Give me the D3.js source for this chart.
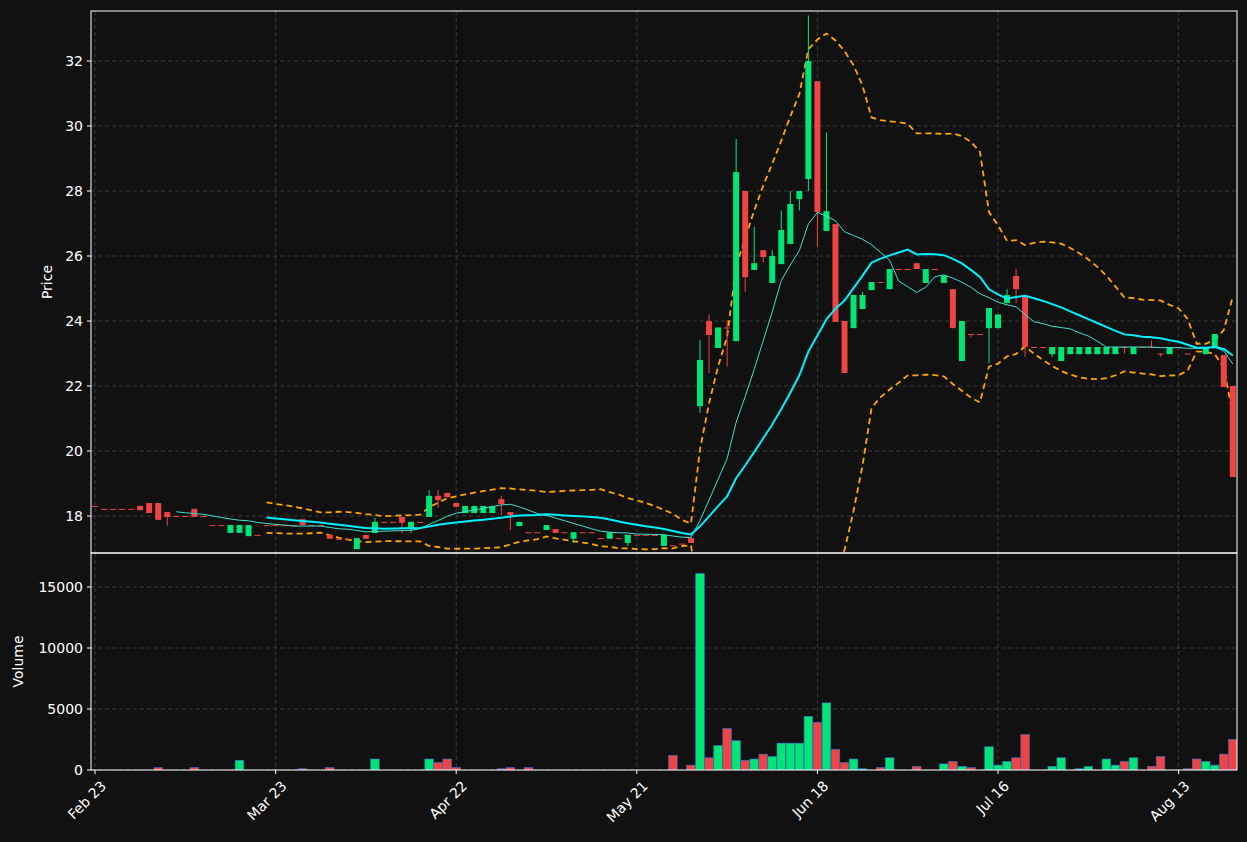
<!DOCTYPE html>
<html><head><meta charset="utf-8">
<script src="https://cdn.jsdelivr.net/npm/d3@7"></script>
<style>body{margin:0;background:#111111;}svg{display:block;font-family:"DejaVu Sans",sans-serif;}</style>
</head><body><svg id="c" width="1247" height="842"></svg>
<script>
const opens=[18.31,18.22,18.22,18.22,18.22,18.31,18.4,18.4,18.12,18.0,18.0,18.22,18.0,17.72,17.72,17.48,17.48,17.38,17.42,17.72,17.72,17.72,17.72,17.9,17.72,17.72,17.42,17.3,17.3,16.98,17.42,17.48,17.82,17.82,17.97,17.6,17.82,17.97,18.62,18.71,18.4,18.09,18.09,18.09,18.09,18.52,18.12,17.69,17.5,17.5,17.57,17.6,17.5,17.3,17.5,17.5,17.32,17.3,17.32,17.17,17.42,17.42,17.42,17.08,17.1,17.15,17.32,21.38,24.0,23.17,23.8,23.38,28.0,25.57,26.18,25.17,25.75,26.37,27.75,28.37,31.38,26.77,26.98,24.0,23.78,24.37,24.95,25.2,24.98,25.6,25.6,25.78,25.17,25.6,25.17,24.98,22.77,23.6,23.6,23.78,23.78,24.55,25.38,24.77,23.2,23.2,22.98,22.77,22.98,22.98,22.98,22.98,22.98,22.98,23.2,22.98,23.2,23.2,23.0,22.98,23.2,23.0,23.2,22.98,23.2,22.95,22.0];
const highs=[18.31,18.22,18.22,18.22,18.22,18.31,18.4,18.4,18.12,18.0,18.0,18.22,18.0,17.72,17.72,17.72,17.72,17.72,17.42,17.72,17.72,17.72,17.72,17.9,17.72,17.72,17.42,17.3,17.3,17.32,17.42,17.95,17.82,17.82,17.97,17.82,17.82,18.8,18.8,18.71,18.4,18.31,18.31,18.31,18.31,18.62,18.12,17.82,17.5,17.5,17.72,17.6,17.5,17.5,17.5,17.5,17.32,17.5,17.32,17.42,17.42,17.42,17.42,17.42,17.1,17.15,17.32,23.42,24.2,23.8,24.03,29.6,28.0,26.9,26.18,26.18,27.4,28.0,28.0,33.4,31.38,29.8,26.98,24.0,24.8,24.9,25.2,25.2,25.6,25.6,25.6,25.78,25.6,25.6,25.4,24.98,24.0,23.6,23.6,24.4,24.2,24.98,25.6,24.77,23.2,23.2,23.2,23.2,23.2,23.2,23.2,23.2,23.2,23.2,23.2,23.2,23.2,23.4,23.0,23.2,23.2,23.0,23.2,23.2,23.6,22.95,22.0];
const lows=[18.31,18.22,18.22,18.22,18.22,18.18,18.09,17.88,17.7,18.0,18.0,17.97,18.0,17.72,17.72,17.48,17.48,17.38,17.42,17.72,17.72,17.72,17.72,17.72,17.72,17.72,17.3,17.3,17.3,16.98,17.3,17.48,17.82,17.82,17.48,17.48,17.82,17.97,18.25,18.58,18.28,18.09,18.09,18.09,18.09,18.03,17.57,17.69,17.5,17.5,17.57,17.48,17.5,17.17,17.5,17.5,17.32,17.3,17.32,17.08,17.42,17.42,17.42,17.08,17.1,17.15,17.17,21.17,22.4,23.17,22.6,23.38,24.9,25.57,25.8,25.17,25.75,26.37,27.4,28.0,26.28,26.77,23.97,22.4,23.78,24.37,24.95,25.2,24.98,25.6,25.6,25.6,25.17,25.6,25.17,23.78,22.77,23.5,23.6,22.7,23.78,24.55,24.55,22.9,23.2,23.2,22.9,22.77,22.98,22.98,22.98,22.98,22.98,22.98,23.0,22.98,23.2,23.2,22.9,22.98,23.2,23.0,23.2,22.98,23.2,21.97,19.2];
const closes=[18.31,18.22,18.22,18.22,18.22,18.18,18.09,17.88,17.97,18.0,18.0,17.97,18.0,17.72,17.72,17.72,17.72,17.72,17.42,17.72,17.72,17.72,17.72,17.72,17.72,17.72,17.3,17.3,17.3,17.32,17.3,17.82,17.82,17.82,17.79,17.82,17.82,18.62,18.49,18.58,18.28,18.31,18.31,18.31,18.31,18.37,18.03,17.82,17.5,17.5,17.72,17.48,17.5,17.5,17.5,17.5,17.32,17.5,17.32,17.42,17.42,17.42,17.42,17.42,17.1,17.15,17.17,22.8,23.57,23.8,23.8,28.58,25.35,25.78,25.97,26.0,26.8,27.6,28.0,32.0,27.35,27.38,23.97,22.4,24.8,24.8,25.2,25.2,25.6,25.6,25.6,25.6,25.6,25.6,25.4,23.78,24.0,23.6,23.6,24.4,24.2,24.8,24.98,23.2,23.2,23.2,23.2,23.2,23.2,23.2,23.2,23.2,23.2,23.2,23.2,23.2,23.2,23.2,23.0,23.2,23.2,23.0,23.2,23.2,23.6,21.97,19.2];
const volumes=[0,0,0,0,0,0,0,200,0,0,0,200,0,0,0,0,800,0,0,0,0,0,0,100,0,0,200,0,0,0,0,900,0,0,0,0,0,900,600,900,200,0,0,0,0,100,200,0,200,0,0,0,0,0,0,0,0,0,0,0,0,0,0,0,1200,0,400,16100,1000,2000,3400,2400,800,900,1300,1100,2200,2200,2200,4400,3900,5500,1700,600,900,100,0,200,1000,0,0,300,0,0,500,700,300,200,0,1900,400,700,1000,2900,0,0,300,1000,0,100,300,0,900,400,700,1000,0,300,1100,0,0,100,900,700,400,1300,2500];
const tickIdx=[0,20,40,60,80,100,120];
const tickLabels=["Feb 23","Mar 23","Apr 22","May 21","Jun 18","Jul 16","Aug 13"];
const priceTicks=[18,20,22,24,26,28,30,32];
const volTicks=[0,5000,10000,15000];

const n=closes.length;
const svg=d3.select("#c");
const L=91,R=1237,PT=11,PB=553,VT=553,VB=770;
const x=d3.scaleLinear().domain([0,126]).range([95,1232.8]);
const y=d3.scaleLinear().domain([18,32]).range([516,61]);
const yv=d3.scaleLinear().domain([0,15000]).range([770,587]);
const UP="#00e676",DN="#ef4444";

svg.append("rect").attr("width",1247).attr("height",842).attr("fill","#111111");
const defs=svg.append("defs");
defs.append("clipPath").attr("id","cp").append("rect").attr("x",L).attr("y",PT).attr("width",R-L).attr("height",PB-PT);
defs.append("clipPath").attr("id","cv").append("rect").attr("x",L).attr("y",VT).attr("width",R-L).attr("height",VB-VT);

const grid=svg.append("g").attr("stroke","#3a3a3a").attr("stroke-dasharray","4,3").attr("stroke-width",1);
priceTicks.forEach(t=>grid.append("line").attr("x1",L).attr("x2",R).attr("y1",y(t)).attr("y2",y(t)));
volTicks.forEach(t=>grid.append("line").attr("x1",L).attr("x2",R).attr("y1",yv(t)).attr("y2",yv(t)));
tickIdx.forEach(t=>{grid.append("line").attr("x1",x(t)).attr("x2",x(t)).attr("y1",PT).attr("y2",PB);
  grid.append("line").attr("x1",x(t)).attr("x2",x(t)).attr("y1",VT).attr("y2",VB);});

// indicators (rolling stats of closes)
function roll(w){return closes.map((c,i)=>{if(i<w-1)return null;const s=closes.slice(i-w+1,i+1);const m=d3.mean(s);const sd=Math.sqrt(d3.mean(s.map(v=>(v-m)*(v-m))));return {i,m,sd};}).filter(d=>d);}
const ma10=roll(10),ma20=roll(20);
const gp=svg.append("g").attr("clip-path","url(#cp)");
const line=acc=>d3.line().x(d=>x(d.i)).y(acc);
gp.append("path").datum(ma20).attr("d",line(d=>y(d.m+2*d.sd))).attr("fill","none").attr("stroke","#ffa500").attr("stroke-width",1.8).attr("stroke-dasharray","6,4");
gp.append("path").datum(ma20).attr("d",line(d=>y(d.m-2*d.sd))).attr("fill","none").attr("stroke","#ffa500").attr("stroke-width",1.8).attr("stroke-dasharray","6,4");

// candles
const cg=gp.append("g");
for(let i=0;i<n;i++){
  const up=closes[i]>opens[i];const col=up?UP:DN;
  cg.append("line").attr("x1",x(i)).attr("x2",x(i)).attr("y1",y(highs[i])).attr("y2",y(lows[i])).attr("stroke",col).attr("stroke-width",1);
  const t=y(Math.max(opens[i],closes[i])),b=y(Math.min(opens[i],closes[i]));
  cg.append("rect").attr("x",x(i)-3).attr("width",6).attr("y",t).attr("height",Math.max(1,b-t)).attr("fill",col);
}
gp.append("path").datum(ma10).attr("d",line(d=>y(d.m))).attr("fill","none").attr("stroke","#40e0d0").attr("stroke-width",1);
gp.append("path").datum(ma20).attr("d",line(d=>y(d.m))).attr("fill","none").attr("stroke","#00f0ff").attr("stroke-width",2);

// volume
const vg=svg.append("g").attr("clip-path","url(#cv)");
volumes.forEach((v,i)=>{if(!v)return;const up=closes[i]>opens[i];
  vg.append("rect").attr("x",x(i)-4.3).attr("width",8.6).attr("y",yv(v)).attr("height",yv(0)-yv(v)).attr("fill",up?UP:DN).attr("stroke","#3b6fd6").attr("stroke-width",0.6);});

// frames
svg.append("rect").attr("x",L).attr("y",PT).attr("width",R-L).attr("height",PB-PT).attr("fill","none").attr("stroke","#fff").attr("stroke-width",1);
svg.append("rect").attr("x",L).attr("y",VT).attr("width",R-L).attr("height",VB-VT).attr("fill","none").attr("stroke","#fff").attr("stroke-width",1);

// axes
const ax=svg.append("g").attr("fill","#fff").attr("font-size",14);
priceTicks.forEach(t=>{ax.append("line").attr("x1",L-4).attr("x2",L).attr("y1",y(t)).attr("y2",y(t)).attr("stroke","#fff");
  ax.append("text").attr("x",L-8).attr("y",y(t)).attr("dy","0.35em").attr("text-anchor","end").text(t);});
volTicks.forEach(t=>{ax.append("line").attr("x1",L-4).attr("x2",L).attr("y1",yv(t)).attr("y2",yv(t)).attr("stroke","#fff");
  ax.append("text").attr("x",L-8).attr("y",yv(t)).attr("dy","0.35em").attr("text-anchor","end").text(t);});
tickIdx.forEach((t,k)=>{ax.append("line").attr("x1",x(t)).attr("x2",x(t)).attr("y1",VB).attr("y2",VB+4).attr("stroke","#fff");
  ax.append("text").attr("transform",`translate(${x(t)+5},${VB+10}) rotate(-45)`).attr("text-anchor","end").attr("dy","0.7em").text(tickLabels[k]);});
ax.append("text").attr("transform",`translate(52,${(PT+PB)/2}) rotate(-90)`).attr("text-anchor","middle").text("Price");
ax.append("text").attr("transform",`translate(23,${(VT+VB)/2}) rotate(-90)`).attr("text-anchor","middle").text("Volume");
</script></body></html>
